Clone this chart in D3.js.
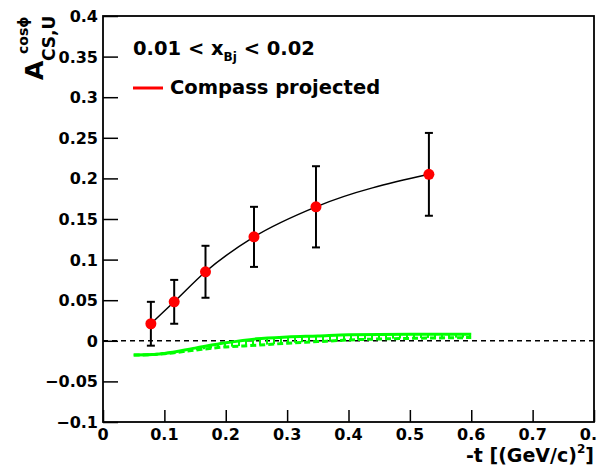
<!DOCTYPE html>
<html>
<head>
<meta charset="utf-8">
<script src="https://cdn.jsdelivr.net/npm/d3@7"></script>
<style>
  body { margin: 0; background: #fff; }
  svg { display: block; }
  text { font-family: "DejaVu Sans", "Liberation Sans", sans-serif; font-weight: bold; fill: #000; }
</style>
</head>
<body>
<svg id="chart" width="597" height="471"></svg>
<script>
// DATA
const pointT = [0.078, 0.116, 0.167, 0.246, 0.347, 0.531];
const pointA = [0.021, 0.048, 0.085, 0.128, 0.165, 0.205];
const pointErr = [0.027, 0.027, 0.032, 0.037, 0.050, 0.051];

const compassT = [0.05, 0.08, 0.1, 0.15, 0.2, 0.25, 0.3, 0.35, 0.4, 0.5, 0.6];
const compassUpper = [-0.0175, -0.017, -0.0155, -0.009, -0.0025, 0.0024, 0.0047, 0.006, 0.0075, 0.008, 0.008];
const compassLower = [-0.0175, -0.017, -0.016, -0.0115, -0.0075, -0.0055, -0.003, -0.001, 0.001, 0.003, 0.004];

const xTickValues = [0, 0.1, 0.2, 0.3, 0.4, 0.5, 0.6, 0.7, 0.8];
const yTickValues = [-0.1, -0.05, 0, 0.05, 0.1, 0.15, 0.2, 0.25, 0.3, 0.35, 0.4];

// CANVAS SETUP
const svg = d3.select("#chart");
const frame = { left: 103, right: 594, top: 16, bottom: 422 };

const x = d3.scaleLinear().domain([0, 0.8]).range([frame.left, frame.right]);
const y = d3.scaleLinear().domain([-0.1, 0.4]).range([frame.bottom, frame.top]);

const fmt = d3.format("~g");

// hatch pattern for the compass band
const defs = svg.append("defs");
defs.append("pattern")
  .attr("id", "hatch")
  .attr("patternUnits", "userSpaceOnUse")
  .attr("width", 7)
  .attr("height", 7)
  .append("rect")
  .attr("x", 0)
  .attr("y", 0)
  .attr("width", 2)
  .attr("height", 7)
  .attr("fill", "#00ff00");

// ZERO LINE
svg.append("line")
  .attr("x1", x(0))
  .attr("x2", x(0.8))
  .attr("y1", y(0))
  .attr("y2", y(0))
  .attr("stroke", "#000")
  .attr("stroke-width", 1.5)
  .attr("stroke-dasharray", "5,4");

// COMPASS BAND
const compass = compassT.map((t, i) => ({ t, lo: compassLower[i], hi: compassUpper[i] }));

svg.append("path")
  .datum(compass)
  .attr("fill", "url(#hatch)")
  .attr("d", d3.area()
    .x((d) => x(d.t))
    .y0((d) => y(d.lo))
    .y1((d) => y(d.hi))
    .curve(d3.curveMonotoneX));

svg.append("path")
  .datum(compass)
  .attr("fill", "none")
  .attr("stroke", "#00ff00")
  .attr("stroke-width", 3)
  .attr("stroke-dasharray", "6,3")
  .attr("d", d3.line().x((d) => x(d.t)).y((d) => y(d.lo)).curve(d3.curveMonotoneX));

svg.append("path")
  .datum(compass)
  .attr("fill", "none")
  .attr("stroke", "#00ff00")
  .attr("stroke-width", 3)
  .attr("d", d3.line().x((d) => x(d.t)).y((d) => y(d.hi)).curve(d3.curveMonotoneX));

// DATA POINTS
const points = pointT.map((t, i) => ({ t, a: pointA[i], e: pointErr[i] }));

svg.append("path")
  .datum(points)
  .attr("fill", "none")
  .attr("stroke", "#000")
  .attr("stroke-width", 1.5)
  .attr("d", d3.line().x((d) => x(d.t)).y((d) => y(d.a)).curve(d3.curveMonotoneX));

const bars = svg.append("g").attr("stroke", "#000").attr("stroke-width", 2);
bars.selectAll("line.err")
  .data(points)
  .join("line")
  .attr("class", "err")
  .attr("x1", (d) => x(d.t))
  .attr("x2", (d) => x(d.t))
  .attr("y1", (d) => y(d.a - d.e))
  .attr("y2", (d) => y(d.a + d.e));
bars.selectAll("line.capTop")
  .data(points)
  .join("line")
  .attr("class", "capTop")
  .attr("x1", (d) => x(d.t) - 4)
  .attr("x2", (d) => x(d.t) + 4)
  .attr("y1", (d) => y(d.a + d.e))
  .attr("y2", (d) => y(d.a + d.e));
bars.selectAll("line.capBot")
  .data(points)
  .join("line")
  .attr("class", "capBot")
  .attr("x1", (d) => x(d.t) - 4)
  .attr("x2", (d) => x(d.t) + 4)
  .attr("y1", (d) => y(d.a - d.e))
  .attr("y2", (d) => y(d.a - d.e));

svg.append("g")
  .selectAll("circle")
  .data(points)
  .join("circle")
  .attr("cx", (d) => x(d.t))
  .attr("cy", (d) => y(d.a))
  .attr("r", 5.5)
  .attr("fill", "#ff0000");

// AXES (ROOT style, ticks inside the frame)
const xAxis = svg.append("g").attr("transform", `translate(0,${frame.bottom})`);
xAxis.call(d3.axisTop(x).tickValues(d3.range(0, 0.801, 0.02)).tickSize(6).tickFormat(""));
xAxis.call(d3.axisTop(x).tickValues(xTickValues).tickSize(12).tickFormat(""));
xAxis.selectAll(".domain").remove();
xAxis.selectAll("line").attr("stroke", "#000").attr("stroke-width", 1.5);

const yAxis = svg.append("g").attr("transform", `translate(${frame.left},0)`);
yAxis.call(d3.axisRight(y).tickValues(d3.range(-0.1, 0.4001, 0.01)).tickSize(7).tickFormat(""));
yAxis.call(d3.axisRight(y).tickValues(yTickValues).tickSize(15).tickFormat(""));
yAxis.selectAll(".domain").remove();
yAxis.selectAll("line").attr("stroke", "#000").attr("stroke-width", 1.5);

svg.append("rect")
  .attr("x", frame.left)
  .attr("y", frame.top)
  .attr("width", frame.right - frame.left)
  .attr("height", frame.bottom - frame.top)
  .attr("fill", "none")
  .attr("stroke", "#000")
  .attr("stroke-width", 1.8);

svg.append("g")
  .selectAll("text")
  .data(xTickValues)
  .join("text")
  .attr("x", (d) => x(d))
  .attr("y", 440)
  .attr("text-anchor", "middle")
  .attr("font-size", 16)
  .text((d) => fmt(d));

svg.append("g")
  .selectAll("text")
  .data(yTickValues)
  .join("text")
  .attr("x", 98)
  .attr("y", (d) => y(d) + 6)
  .attr("text-anchor", "end")
  .attr("font-size", 16)
  .text((d) => fmt(d));

// AXIS TITLES
const xTitle = svg.append("text")
  .attr("x", 594)
  .attr("y", 462)
  .attr("text-anchor", "end")
  .attr("font-size", 19);
xTitle.append("tspan").text("-t [(GeV/c)");
xTitle.append("tspan").attr("font-size", 12).attr("dy", -9).text("2");
xTitle.append("tspan").attr("dy", 9).text("]");

const yTitle = svg.append("g").attr("transform", "translate(43,80) rotate(-90)");
yTitle.append("text").attr("x", 0).attr("y", 0).attr("font-size", 25).text("A");
yTitle.append("text").attr("x", 19).attr("y", 12).attr("font-size", 17).text("CS,U");
yTitle.append("text").attr("x", 26).attr("y", -15).attr("font-size", 14).text("cosϕ");

// LEGEND
const bin = svg.append("text")
  .attr("x", 133)
  .attr("y", 55)
  .attr("font-size", 19.5);
bin.append("tspan").text("0.01 < x");
bin.append("tspan").attr("font-size", 12).attr("dy", 6).text("Bj");
bin.append("tspan").attr("dy", -6).text(" < 0.02");

svg.append("line")
  .attr("x1", 133)
  .attr("x2", 163)
  .attr("y1", 88)
  .attr("y2", 88)
  .attr("stroke", "#ff0000")
  .attr("stroke-width", 3);

svg.append("text")
  .attr("x", 170)
  .attr("y", 94)
  .attr("font-size", 19.5)
  .text("Compass projected");
</script>
</body>
</html>
